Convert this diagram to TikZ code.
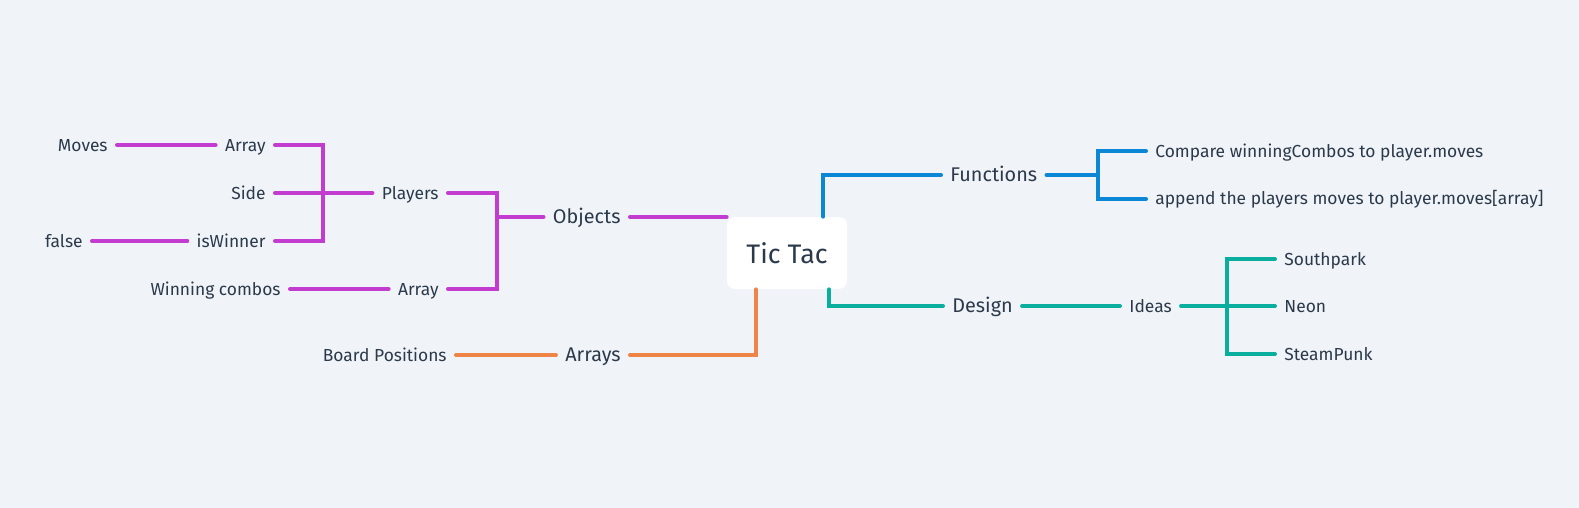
\documentclass[tikz,border=0pt]{standalone}
\usepackage{fontspec}
\setmainfont{Fira Sans}
\usetikzlibrary{positioning}
\definecolor{bg}{HTML}{F0F3F7}
\definecolor{ink}{HTML}{2B3A4B}
\definecolor{objc}{HTML}{C23DCF}
\definecolor{funcc}{HTML}{0B87D6}
\definecolor{desc}{HTML}{0AAE9F}
\definecolor{arrc}{HTML}{EE8445}
\tikzset{
  root/.style={fill=white, rounded corners=4pt, minimum width=60pt,
               minimum height=36pt, text=ink, font=\fontsize{13.4}{15}\selectfont},
  topic/.style={text=ink, font=\fontsize{9.9}{12}\selectfont, inner xsep=4.5pt,
                inner ysep=0pt, text height=6.8pt, text depth=0pt},
  leaf/.style={topic, font=\fontsize{8.7}{11}\selectfont, text height=6pt},
  branch/.style={line width=2pt, line cap=round, line join=miter},
}

\begin{document}
\begin{tikzpicture}[x=0.5pt, y=-0.5pt]

\fill[bg] (0,0) rectangle (1579,508);
\useasboundingbox (0,0) rectangle (1579,508);

\node[root] (tic) at (787,253) {Tic Tac};

% left side
\node[topic, anchor=east] (objects) at (630,217) {Objects};
\node[topic, anchor=east] (arrays) at (630,355) {Arrays};
\node[leaf, anchor=east] (board) at (456,355) {Board Positions};

\node[leaf, anchor=east] (players) at (448,193) {Players};
\node[leaf, anchor=east] (array2) at (448,289) {Array};
\node[leaf, anchor=east] (combos) at (290,289) {Winning combos};

\node[leaf, anchor=east] (array1) at (275,145) {Array};
\node[leaf, anchor=east] (moves) at (117,145) {Moves};
\node[leaf, anchor=east] (side) at (275,193) {Side};
\node[leaf, anchor=east] (winner) at (275,241) {isWinner};
\node[leaf, anchor=east] (false) at (92,241) {false};

\coordinate (objfork) at (497,217);
\coordinate (plyfork) at (323,193);

% right side
\node[topic, anchor=west] (functions) at (941,175) {Functions};
\node[leaf, anchor=west] (compare) at (1146,151) {Compare winningCombos to player.moves};
\node[leaf, anchor=west] (append) at (1146,199) {append the players moves to player.moves[array]};

\node[topic, anchor=west] (design) at (943,306) {Design};
\node[leaf, anchor=west] (ideas) at (1120,306) {Ideas};
\node[leaf, anchor=west] (south) at (1275,259) {Southpark};
\node[leaf, anchor=west] (neon) at (1275,306) {Neon};
\node[leaf, anchor=west] (steam) at (1275,354) {SteamPunk};

\coordinate (funfork) at (1098,175);
\coordinate (ideafork) at (1227,306);

% objects
\draw[branch, objc] (objects.east) -- (objects.east -| tic.west);
\draw[branch, objc] (players.east) -| (objfork) |- (array2.east);
\draw[branch, objc] (objfork) -- (objects.west);
\draw[branch, objc] (array1.east) -| (plyfork) |- (winner.east);
\draw[branch, objc] (side.east) -- (players.west);
\draw[branch, objc] (moves.east) -- (array1.west);
\draw[branch, objc] (false.east) -- (winner.west);
\draw[branch, objc] (combos.east) -- (array2.west);

% arrays
\draw[branch, arrc] ([xshift=14.5pt]tic.south west) |- (arrays.east);
\draw[branch, arrc] (arrays.west) -- (board.east);

% functions
\draw[branch, funcc] ([xshift=-12pt]tic.north east) |- (functions.west);
\draw[branch, funcc] (functions.east) -- (funfork);
\draw[branch, funcc] (compare.west) -| (funfork) |- (append.west);

% design
\draw[branch, desc] ([xshift=-9pt]tic.south east) |- (design.west);
\draw[branch, desc] (design.east) -- (ideas.west);
\draw[branch, desc] (ideas.east) -- (neon.west);
\draw[branch, desc] (south.west) -| (ideafork) |- (steam.west);

\end{tikzpicture}
\end{document}
